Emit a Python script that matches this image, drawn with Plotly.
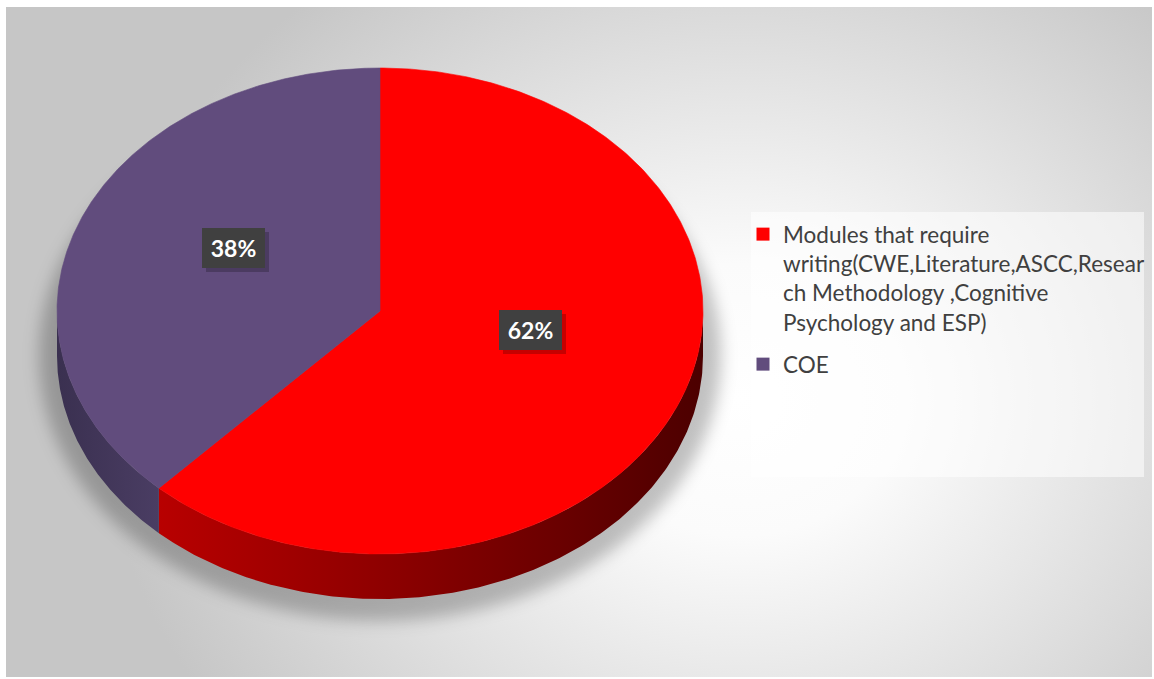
import base64
import numpy as np
import plotly.graph_objects as go

# ---- data -------------------------------------------------------------
categories = ["Modules that require writing(CWE,Literature,ASCC,Research Methodology ,Cognitive Psychology and ESP)",
              "COE"]
legend_text = ["Modules that require<br>writing(CWE,Literature,ASCC,Resear<br>ch Methodology ,Cognitive<br>Psychology and ESP)",
               "COE"]
shares = [62, 38]  # percent

# ---- styling ----------------------------------------------------------
top_colors = ["#ff0000", "#614c7d"]
side_scales = [
    [[0, "#b80000"], [0.45, "#8a0000"], [1, "#4c0000"]],
    [[0, "#3a3050"], [1, "#4a3d63"]],
]
label_xy = [(530, 329.5), (233.5, 247.5)]

W, H = 1154, 679
CX, CY, RX, RY, DEPTH = 380, 311, 323, 243, 45


def ell(t_deg, drop=0.0):
    t = np.radians(t_deg)
    return CX + RX * np.cos(t), CY - RY * np.sin(t) + drop


fig = go.Figure()

# slice angle spans (degrees, clockwise from 12 o'clock)
spans = []
cum = 0.0
for s in shares:
    t0 = 90 - cum * 3.6
    t1 = 90 - (cum + s) * 3.6
    spans.append((t1, t0))
    cum += s

# extruded rim: only the front half (sin t <= 0) is visible
for (a, b), scale in zip(spans, side_scales):
    best = None
    for k in (-1, 0, 1):
        lo, hi = max(a + 360 * k, -180), min(b + 360 * k, 0)
        if hi > lo:
            best = (lo, hi)
    if best is None:
        continue
    ts = np.linspace(best[0], best[1], 200)
    xt, yt = ell(ts)
    xb, yb = ell(ts[::-1], DEPTH)
    fig.add_trace(go.Scatter(
        x=np.concatenate([xt, xb, xt[:1]]), y=np.concatenate([yt, yb, yt[:1]]),
        mode="lines", line=dict(width=0), fill="toself",
        fillgradient=dict(type="horizontal", colorscale=scale),
        hoverinfo="skip", showlegend=False))

# top face sectors
for (a, b), col, name, s in zip(spans, top_colors, categories, shares):
    ts = np.linspace(b, a, 400)
    xs, ys = ell(ts)
    fig.add_trace(go.Scatter(
        x=np.concatenate([[CX], xs, [CX]]), y=np.concatenate([[CY], ys, [CY]]),
        mode="lines", line=dict(width=0.6, color=col), fill="toself", fillcolor=col,
        name=name, text=f"{s}%", hoverinfo="text", showlegend=False))

# legend entries
for i, (lab, col) in enumerate(zip(legend_text, top_colors)):
    fig.add_trace(go.Scatter(
        x=[None], y=[None], mode="markers", name=lab, legendgroup=f"g{i}",
        marker=dict(symbol="square", size=13, color=col)))

# percentage labels
for (lx, ly), s in zip(label_xy, shares):
    fig.add_annotation(x=lx + 4, y=ly + 4, text=" ", showarrow=False, width=63, height=40,
                       bgcolor="rgba(0,0,0,0.22)", borderwidth=0, borderpad=0)
    fig.add_annotation(x=lx, y=ly, text=f"<b>{s}%</b>", showarrow=False, width=63, height=40,
                       bgcolor="#404040", borderwidth=0, borderpad=0,
                       font=dict(family="Lato", size=23, color="white"))

# backdrop: soft radial light plus the pie's drop shadow
svg = f"""<svg xmlns='http://www.w3.org/2000/svg' width='1146' height='670' viewBox='6 7 1146 670'>
<defs>
<radialGradient id='bg' gradientUnits='userSpaceOnUse' cx='740' cy='400' r='640'
  gradientTransform='translate(740 400) scale(1 0.85) translate(-740 -400)'>
<stop offset='0' stop-color='#ffffff'/><stop offset='0.25' stop-color='#fbfbfb'/>
<stop offset='1' stop-color='#c6c6c6'/></radialGradient>
<filter id='blur' x='-20%' y='-20%' width='140%' height='140%'><feGaussianBlur stdDeviation='8'/></filter>
</defs>
<rect x='6' y='7' width='1146' height='670' fill='url(#bg)'/>
<ellipse cx='{CX}' cy='{CY + DEPTH}' rx='{RX + 18}' ry='{RY + 22}' fill='#000' fill-opacity='0.24' filter='url(#blur)'/>
</svg>"""
src = "data:image/svg+xml;base64," + base64.b64encode(svg.encode()).decode()
fig.add_layout_image(source=src, xref="paper", yref="paper", x=6 / W, y=1 - 7 / H,
                     sizex=1146 / W, sizey=670 / H, sizing="stretch", layer="below",
                     xanchor="left", yanchor="top")

# legend panel
fig.add_shape(type="rect", x0=751, x1=1144, y0=212, y1=477, line=dict(width=0),
              fillcolor="rgba(255,255,255,0.55)", layer="below")

fig.update_layout(
    width=W, height=H, margin=dict(l=0, r=0, t=0, b=0),
    paper_bgcolor="white", plot_bgcolor="rgba(0,0,0,0)",
    xaxis=dict(range=[0, W], visible=False, fixedrange=True),
    yaxis=dict(range=[H, 0], visible=False, fixedrange=True),
    showlegend=True,
    legend=dict(x=(783 - 40) / W, y=1 - 213 / H, xanchor="left", yanchor="top",
                bgcolor="rgba(0,0,0,0)", font=dict(family="Lato", size=22.5, color="#404040"),
                valign="top", traceorder="grouped", tracegroupgap=10, itemwidth=30),
)

fig.write_html("out.html")
